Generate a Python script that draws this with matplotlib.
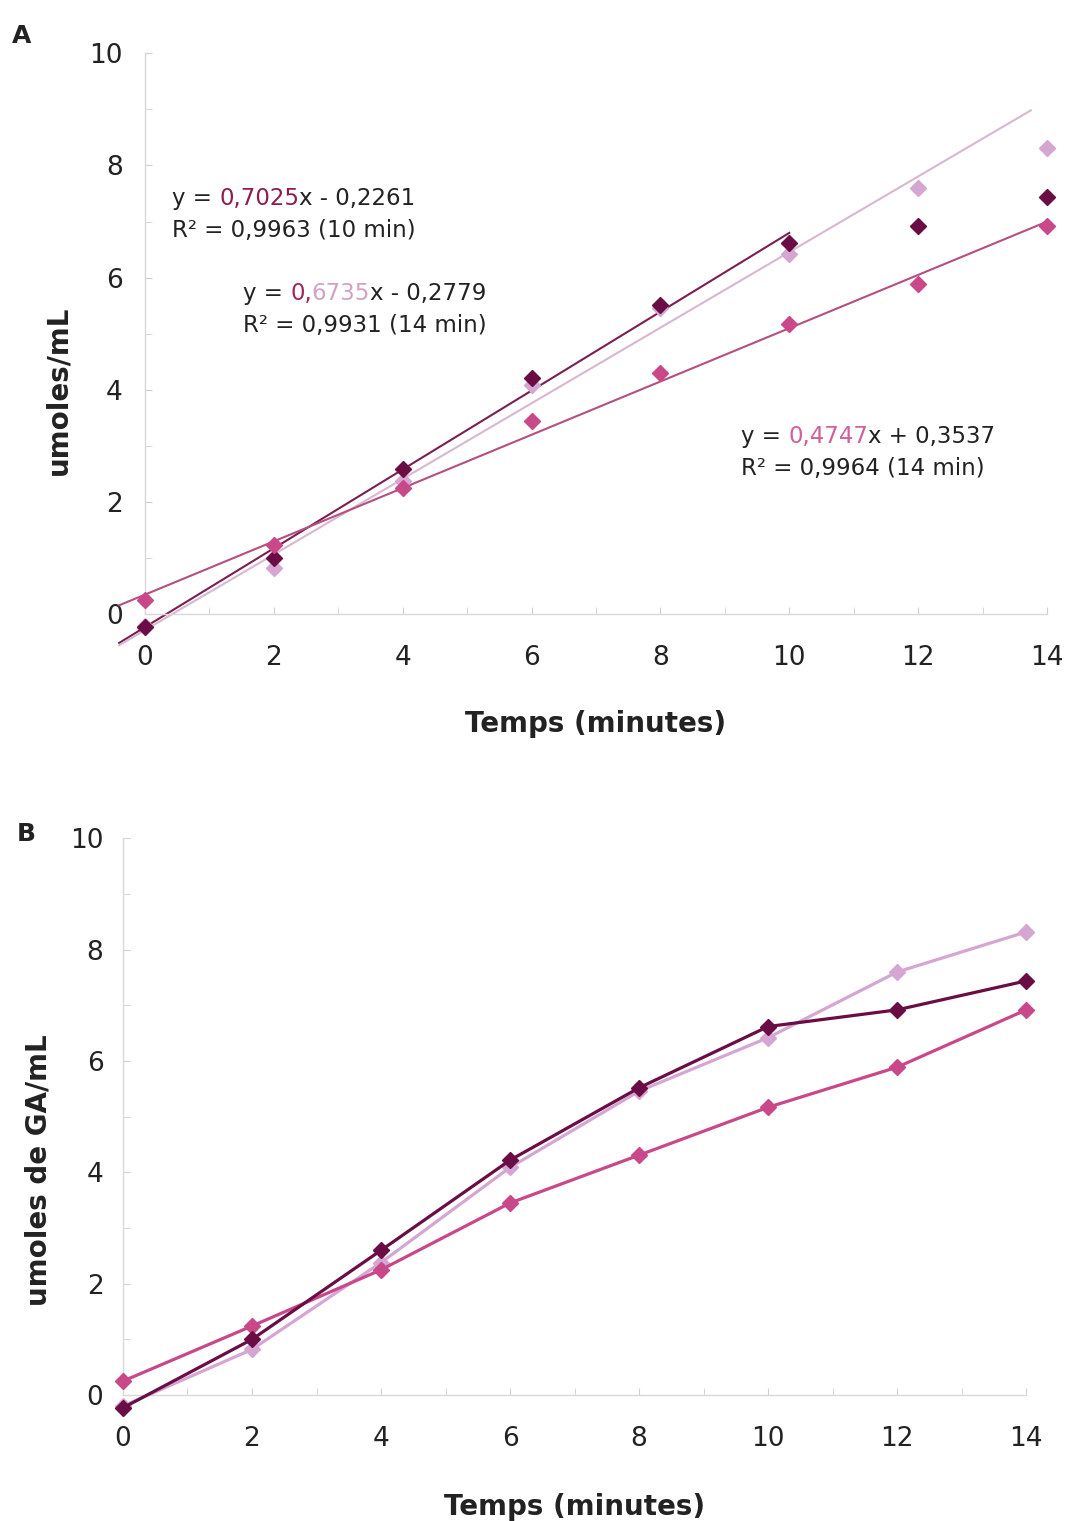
import numpy as np
import matplotlib.pyplot as plt
from matplotlib.ticker import MultipleLocator

temps = [0, 2, 4, 6, 8, 10, 12, 14]
serie_fonce = [-0.23, 1.0, 2.6, 4.22, 5.52, 6.62, 6.92, 7.44]
serie_clair = [-0.2, 0.82, 2.38, 4.09, 5.46, 6.42, 7.6, 8.32]
serie_rose = [0.25, 1.24, 2.25, 3.45, 4.31, 5.17, 5.89, 6.92]

# coefficients des droites de tendance (pente, ordonnée, x max)
tend_fonce = (0.7025, -0.2261, 10)
tend_clair = (0.6735, -0.2779, 13.75)
tend_rose = (0.4747, 0.3537, 14)

c_fonce = '#6a0d45'
c_clair = '#d6a6d2'
c_rose = '#c9488a'
lt_fonce = '#7b1f52'
lt_clair = '#d8b8d0'
lt_rose = '#b44f80'

plt.rcParams['font.family'] = 'DejaVu Sans'
fig = plt.figure(figsize=(10.69, 15.21), dpi=100)

axA = fig.add_axes([0.1356, 0.596, 0.8438, 0.369])
axB = fig.add_axes([0.115, 0.0828, 0.845, 0.366])


def style_axes(ax, pad_x, pad_y):
    ax.set_xlim(0, 14)
    ax.set_ylim(0, 10)
    for s in ['top', 'right']:
        ax.spines[s].set_visible(False)
    for s in ['left', 'bottom']:
        ax.spines[s].set_color('#d8d8d8')
        ax.spines[s].set_linewidth(1)
    ax.xaxis.set_major_locator(MultipleLocator(2))
    ax.yaxis.set_major_locator(MultipleLocator(2))
    ax.xaxis.set_minor_locator(MultipleLocator(1))
    ax.yaxis.set_minor_locator(MultipleLocator(1))
    ax.tick_params(axis='x', which='both', direction='in', length=5, color='#d0d0d0',
                   labelsize=19, pad=pad_x, labelcolor='#222222')
    ax.tick_params(axis='y', which='both', direction='in', length=5, color='#d0d0d0',
                   labelsize=19, pad=pad_y, labelcolor='#222222')


style_axes(axA, 22, 16)
style_axes(axB, 22, 14)

# Panneau A : points + droites de tendance
for y, c in [(serie_clair, c_clair), (serie_fonce, c_fonce), (serie_rose, c_rose)]:
    axA.plot(temps, y, linestyle='none', marker='D', markersize=8, color=c, clip_on=False, zorder=3)

for (a, b, xmax), c in [(tend_fonce, lt_fonce), (tend_clair, lt_clair), (tend_rose, lt_rose)]:
    xs = np.array([-0.4, xmax])
    axA.plot(xs, a * xs + b, color=c, linewidth=1.5, clip_on=False, zorder=2)


def equation(ax, x, y, morceaux, r2):
    t = ax.text(x, y, morceaux[0][0], color=morceaux[0][1], fontsize=16.5,
                transform=ax.transData, va='baseline')
    for txt, col in morceaux[1:]:
        t = ax.annotate(txt, xy=(1, 0), xycoords=t, color=col, fontsize=16.5, va='bottom')
    ax.text(x, y - 0.57, r2, color='#222222', fontsize=16.5, va='baseline')


equation(axA, 0.42, 7.3, [('y = ', '#222222'), ('0,7025', '#8e1d4e'), ('x - 0,2261', '#222222')],
         'R² = 0,9963 (10 min)')
equation(axA, 1.52, 5.6, [('y = ', '#222222'), ('0,', '#a3255a'), ('6735', '#cfa3c4'),
                          ('x - 0,2779', '#222222')], 'R² = 0,9931 (14 min)')
equation(axA, 9.25, 3.05, [('y = ', '#222222'), ('0,4747', '#d0609a'), ('x + 0,3537', '#222222')],
         'R² = 0,9964 (14 min)')

axA.set_xlabel('Temps (minutes)', fontsize=20, fontweight='bold', labelpad=28, color='#222222')
axA.set_ylabel('umoles/mL', fontsize=20, fontweight='bold', color='#222222')
axA.yaxis.set_label_coords(-0.08, 0.40)

# Panneau B : courbes reliées
for y, c in [(serie_clair, c_clair), (serie_rose, c_rose), (serie_fonce, c_fonce)]:
    axB.plot(temps, y, marker='D', markersize=8, color=c, linewidth=2.3, clip_on=False, zorder=3)

axB.set_xlabel('Temps (minutes)', fontsize=20, fontweight='bold', labelpad=30, color='#222222')
axB.set_ylabel('umoles de GA/mL', fontsize=20, fontweight='bold', color='#222222')
axB.yaxis.set_label_coords(-0.078, 0.404)

fig.text(0.011, 0.972, 'A', fontsize=18, fontweight='bold', color='#222222')
fig.text(0.016, 0.447, 'B', fontsize=18, fontweight='bold', color='#222222')

fig.savefig('out.png', dpi=100)
